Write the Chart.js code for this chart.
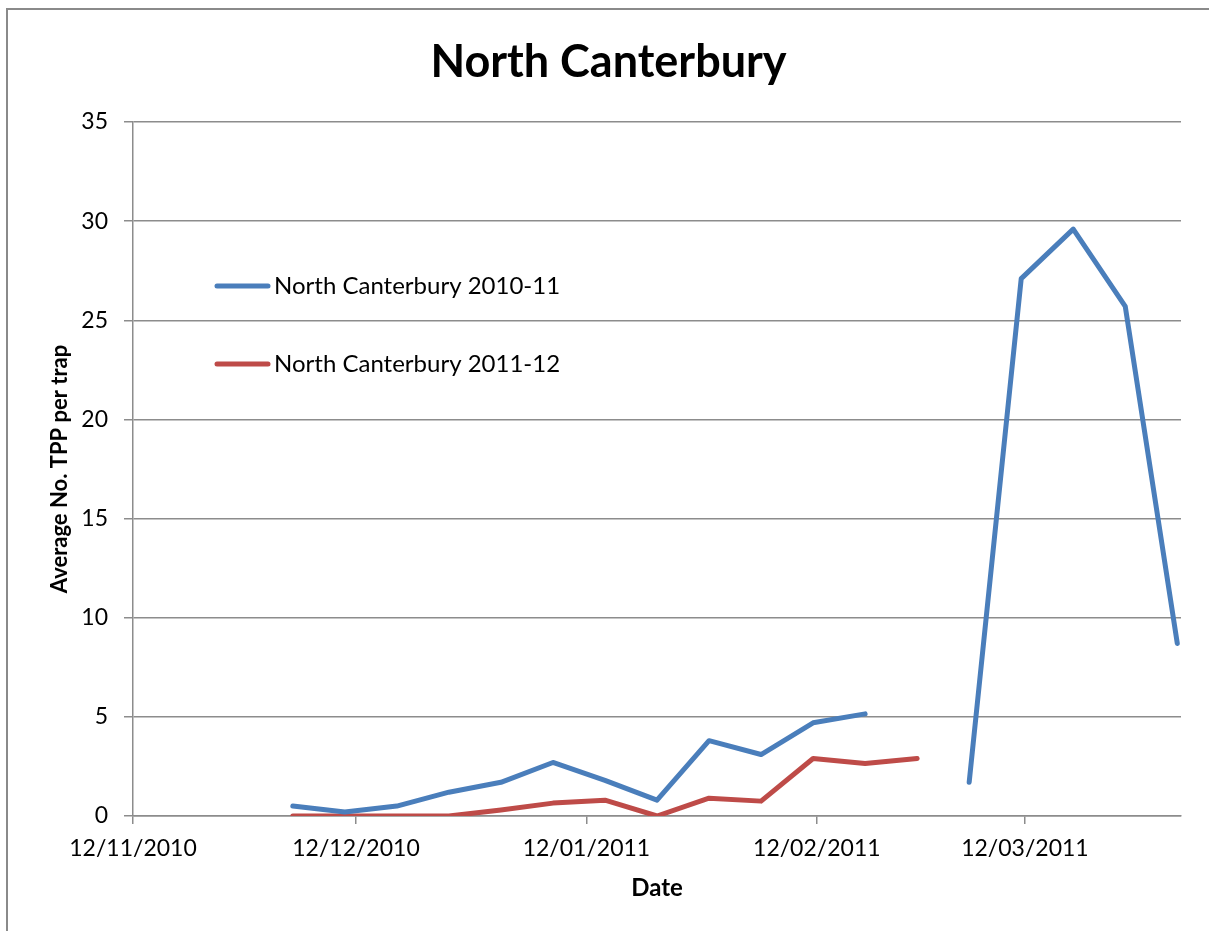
<!DOCTYPE html>
<html>
<head>
<meta charset="utf-8">
<script src="https://cdn.jsdelivr.net/npm/chart.js@4/dist/chart.umd.min.js"></script>
<style>
  html, body { margin: 0; padding: 0; background: #ffffff; }
  #wrap { position: relative; width: 1209px; height: 931px; }
  canvas { display: block; }
</style>
</head>
<body>
<div id="wrap"><canvas id="c" width="1209" height="931"></canvas></div>
<script>
// ---- data ----
const chartTitle = 'North Canterbury';
const xAxisTitle = 'Date';
const yAxisTitle = 'Average No. TPP per trap';
const seriesNames = ['North Canterbury 2010-11', 'North Canterbury 2011-12'];
const sampleDates = ['03/12/2010','10/12/2010','17/12/2010','24/12/2010','31/12/2010',
  '07/01/2011','14/01/2011','21/01/2011','28/01/2011','04/02/2011','11/02/2011',
  '18/02/2011','25/02/2011','04/03/2011','11/03/2011','18/03/2011','25/03/2011','01/04/2011'];
const values2010 = [0.5, 0.2, 0.5, 1.2, 1.7, 2.7, 1.8, 0.8, 3.8, 3.1, 4.7, 5.15, null, 1.7, 27.1, 29.6, 25.7, 8.7];
const values2011 = [0, 0, 0, 0, 0.3, 0.65, 0.8, 0, 0.9, 0.75, 2.9, 2.65, 2.9, null, null, null, null, null];
const xTickLabels = ['12/11/2010', '12/12/2010', '12/01/2011', '12/02/2011', '12/03/2011'];
const axisStart = '12/11/2010';
const axisEnd = '02/04/2011';
const yTicks = [0, 5, 10, 15, 20, 25, 30, 35];

// ---- helpers ----
function parseDMY(s) {
  const [d, m, y] = s.split('/').map(Number);
  return Date.UTC(y, m - 1, d);
}
const DAY = 86400000;
const t0 = parseDMY(axisStart);
const dayOf = s => Math.round((parseDMY(s) - t0) / DAY);
// Excel date axis: each date sits in the middle of its one-day slot
const toPoints = vals => sampleDates.map((d, i) => ({ x: dayOf(d) + 0.5, y: vals[i] }));
const tickDays = xTickLabels.map(dayOf);

const FONT = 'Lato, "Open Sans", "DejaVu Sans", sans-serif';
const GRID = '#8c8c8c';
const colors = ['#4a7ebb', '#be4b48'];

const frame = {
  id: 'frame',
  beforeDraw(chart) {
    const ctx = chart.ctx;
    ctx.save();
    ctx.fillStyle = '#ffffff';
    ctx.fillRect(0, 0, chart.width, chart.height);
    ctx.strokeStyle = '#8a8a8a';
    ctx.lineWidth = 2;
    ctx.beginPath();
    ctx.moveTo(7, chart.height + 5);
    ctx.lineTo(7, 9);
    ctx.lineTo(chart.width + 5, 9);
    ctx.stroke();
    ctx.restore();
  }
};

const innerLegend = {
  id: 'innerLegend',
  afterDraw(chart) {
    const ctx = chart.ctx;
    const rows = [286, 364];
    ctx.save();
    chart.data.datasets.forEach((ds, i) => {
      const y = rows[i];
      ctx.strokeStyle = ds.borderColor;
      ctx.lineWidth = 5;
      ctx.lineCap = 'round';
      ctx.beginPath();
      ctx.moveTo(217, y);
      ctx.lineTo(268, y);
      ctx.stroke();
      ctx.fillStyle = '#000000';
      ctx.font = '24px ' + FONT;
      ctx.textBaseline = 'middle';
      ctx.textAlign = 'left';
      ctx.fillText(ds.label, 274, y);
    });
    ctx.restore();
  }
};

new Chart(document.getElementById('c'), {
  type: 'line',
  data: {
    datasets: [
      { label: seriesNames[0], data: toPoints(values2010), borderColor: colors[0], backgroundColor: colors[0] },
      { label: seriesNames[1], data: toPoints(values2011), borderColor: colors[1], backgroundColor: colors[1] }
    ]
  },
  options: {
    responsive: false,
    animation: false,
    devicePixelRatio: 1,
    spanGaps: false,
    elements: {
      point: { radius: 0, hoverRadius: 0 },
      line: { borderWidth: 5, tension: 0, borderCapStyle: 'round', borderJoinStyle: 'round' }
    },
    layout: { padding: { left: 36, right: 28, top: 0, bottom: 0 } },
    plugins: {
      legend: { display: false },
      tooltip: { enabled: false },
      title: {
        display: true,
        text: chartTitle,
        color: '#000000',
        font: { family: FONT, size: 45, weight: 'bold', lineHeight: 1.2 },
        padding: { top: 35, bottom: 33 }
      }
    },
    scales: {
      x: {
        type: 'linear',
        min: 0,
        max: dayOf(axisEnd),
        afterFit: s => { s.height = 115; },
        afterBuildTicks: s => { s.ticks = tickDays.map(v => ({ value: v })); },
        ticks: {
          autoSkip: false,
          maxRotation: 0,
          padding: 11,
          color: '#000000',
          font: { family: FONT, size: 23 },
          callback: (v) => xTickLabels[tickDays.indexOf(v)]
        },
        grid: { drawOnChartArea: false, drawTicks: true, tickLength: 8, color: GRID, lineWidth: 1.5 },
        border: { display: true, color: GRID, width: 1.5 },
        title: {
          display: true,
          text: xAxisTitle,
          color: '#000000',
          font: { family: FONT, size: 24, weight: 'bold', lineHeight: 1.2 },
          padding: { top: 0, bottom: 28.6 }
        }
      },
      y: {
        min: 0,
        max: 35,
        afterFit: s => { s.width = 97; },
        afterBuildTicks: s => { s.ticks = yTicks.map(v => ({ value: v })); },
        ticks: {
          padding: 16,
          color: '#000000',
          font: { family: FONT, size: 23 }
        },
        grid: { drawTicks: true, tickLength: 9, color: GRID, lineWidth: 1.5 },
        border: { display: true, color: GRID, width: 1.5 },
        title: {
          display: true,
          text: yAxisTitle,
          color: '#000000',
          font: { family: FONT, size: 22, weight: 'bold', lineHeight: 1.2 },
          padding: { top: 10.8, bottom: 0 }
        }
      }
    }
  },
  plugins: [frame, innerLegend]
});
</script>
</body>
</html>
